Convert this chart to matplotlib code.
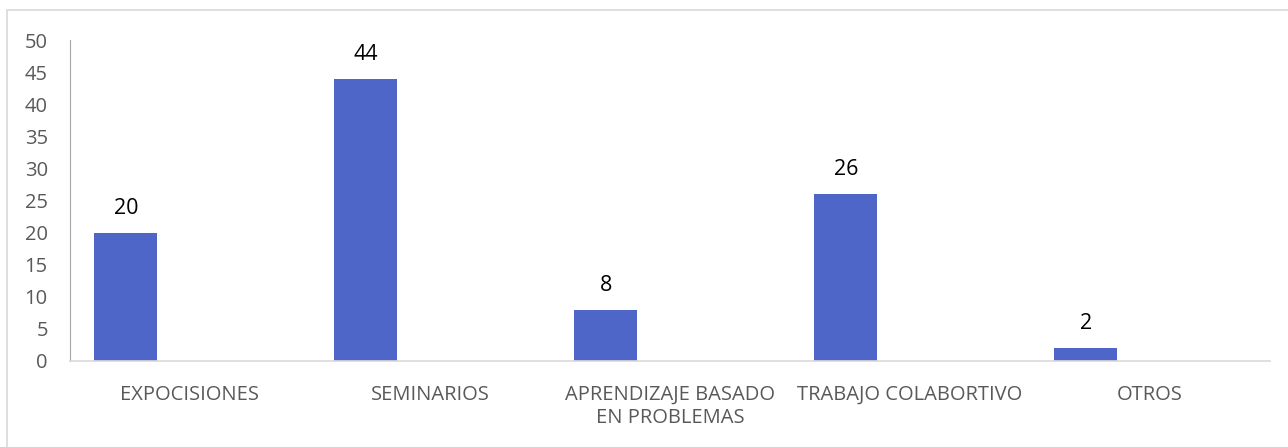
import matplotlib.pyplot as plt
from matplotlib.patches import Rectangle

categorias = ["EXPOCISIONES", "SEMINARIOS", "APRENDIZAJE BASADO\nEN PROBLEMAS",
              "TRABAJO COLABORTIVO", "OTROS"]
valores = [20, 44, 8, 26, 2]
ticks_y = [0, 5, 10, 15, 20, 25, 30, 35, 40, 45, 50]

plt.rcParams['font.family'] = ['Open Sans', 'DejaVu Sans']

fig = plt.figure(figsize=(12.88, 4.47), dpi=100)
ax = fig.add_axes([70 / 1288, 1 - 361 / 447, 1200 / 1288, 321 / 447])

# borde exterior del grafico
fig.patches.append(Rectangle((7 / 1288, -0.05), 1.2, 1 - 10 / 447 + 0.05,
                             transform=fig.transFigure, fill=False,
                             edgecolor="#d9d9d9", linewidth=1.2))

pos = list(range(len(categorias)))
offset = -0.267
barras = ax.bar([p + offset for p in pos], valores, width=0.2625, color="#4F66C9")

for b, v in zip(barras, valores):
    ax.annotate(str(v), (b.get_x() + b.get_width() / 2, v), xytext=(0, 10),
                textcoords="offset points", ha="center", va="bottom",
                fontsize=15.5, color="black")

ax.set_xlim(-0.5, len(categorias) - 0.5)
ax.set_ylim(0, 50)
ax.set_yticks(ticks_y)
ax.set_xticks(pos)
ax.set_xticklabels(categorias, fontsize=14.5, color="#595959", linespacing=1.2)
ax.tick_params(axis="x", length=0, pad=17)
ax.tick_params(axis="y", length=0, pad=16, labelsize=14.5, labelcolor="#595959")

for s in ["top", "right"]:
    ax.spines[s].set_visible(False)
ax.spines["left"].set_color("#a6a6a6")
ax.spines["bottom"].set_color("#d9d9d9")
ax.spines["bottom"].set_linewidth(1.2)

fig.savefig("out.png", dpi=100)
